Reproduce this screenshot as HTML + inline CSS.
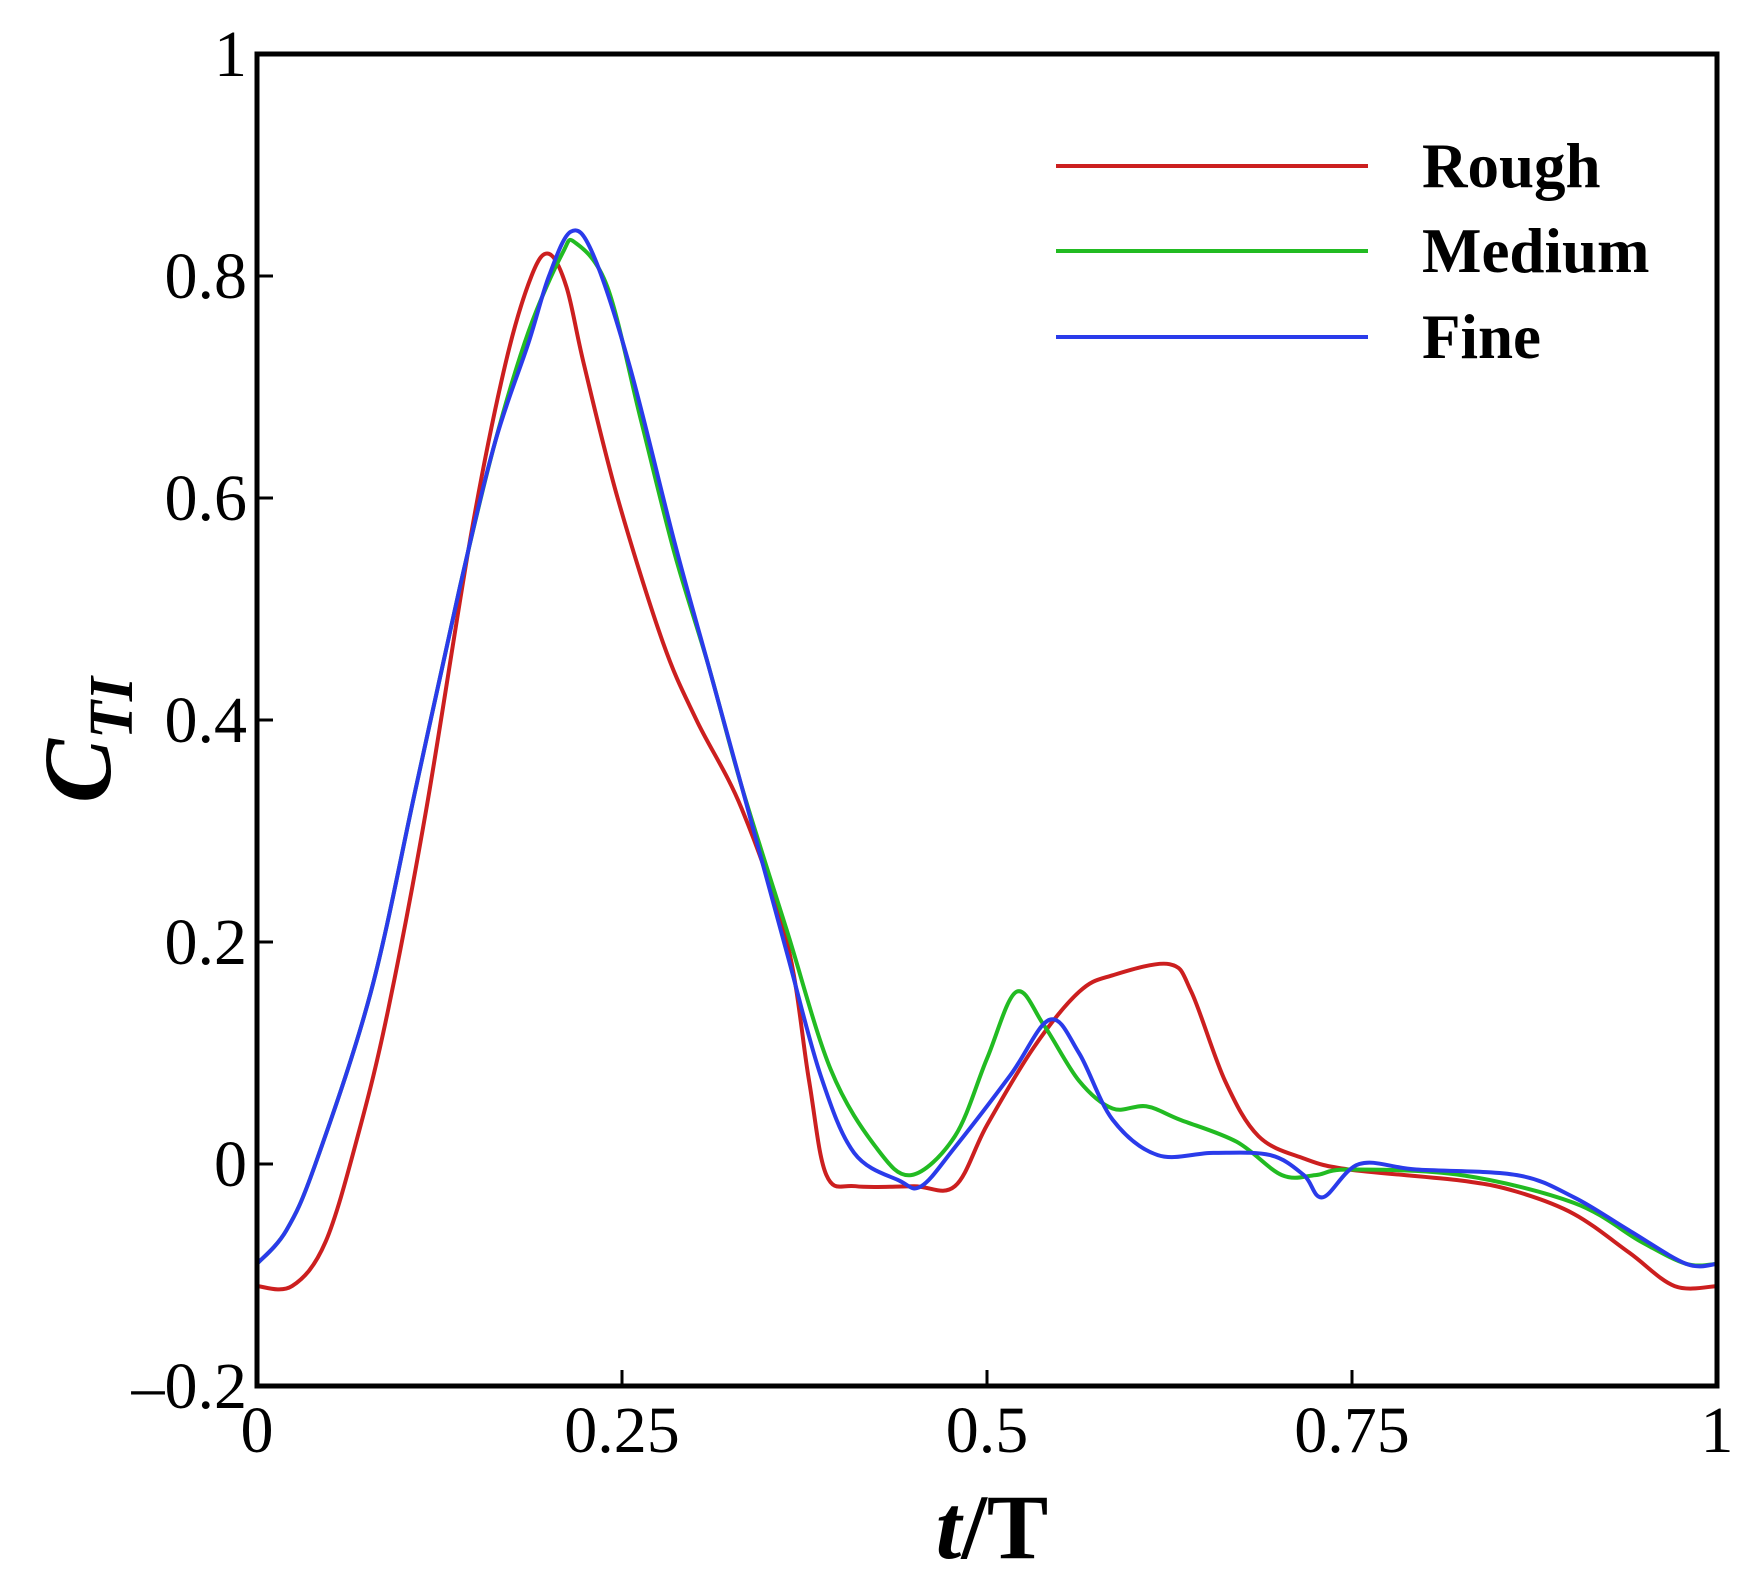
<!DOCTYPE html>
<html><head><meta charset="utf-8"><style>
html,body{margin:0;padding:0;background:#fff}
svg{display:block}
text{font-family:"Liberation Serif",serif}
</style></head><body>
<svg id="chart" width="1761" height="1578" viewBox="0 0 1761 1578" xmlns="http://www.w3.org/2000/svg">
<g id="plot"></g>
</svg>
<script>
const xTicks=[0,0.25,0.5,0.75,1];
const xTickLabels=["0","0.25","0.5","0.75","1"];
const yTicks=[-0.2,0,0.2,0.4,0.6,0.8,1];
const yTickLabels=["\u20130.2","0","0.2","0.4","0.6","0.8","1"];
const seriesNames=["Rough","Medium","Fine"];
const seriesColors=["#cc1f1f","#22bb22","#2a3bea"];
const roughT=[0,0.024,0.047,0.07,0.09,0.116,0.147,0.17,0.188,0.2,0.212,0.224,0.247,0.278,0.301,0.332,0.363,0.378,0.39,0.41,0.45,0.478,0.5,0.532,0.563,0.586,0.625,0.64,0.663,0.686,0.717,0.748,0.825,0.863,0.902,0.94,0.971,1];
const roughV=[-0.11,-0.11,-0.07,0.03,0.14,0.32,0.57,0.72,0.8,0.82,0.79,0.72,0.6,0.47,0.4,0.32,0.2,0.076,-0.01,-0.02,-0.02,-0.02,0.035,0.105,0.155,0.17,0.18,0.155,0.075,0.025,0.005,-0.005,-0.015,-0.025,-0.045,-0.08,-0.11,-0.11];
const mediumT=[0,0.02,0.04,0.078,0.109,0.139,0.163,0.186,0.209,0.218,0.24,0.263,0.286,0.309,0.332,0.363,0.393,0.424,0.448,0.478,0.5,0.52,0.539,0.563,0.586,0.609,0.632,0.671,0.702,0.725,0.748,0.825,0.902,0.948,0.979,1];
const mediumV=[-0.09,-0.06,0.0,0.155,0.34,0.52,0.65,0.75,0.82,0.83,0.79,0.67,0.55,0.45,0.34,0.21,0.085,0.015,-0.01,0.025,0.095,0.155,0.125,0.075,0.05,0.052,0.04,0.02,-0.01,-0.01,-0.005,-0.01,-0.035,-0.07,-0.09,-0.09];
const fineT=[0,0.02,0.04,0.078,0.109,0.139,0.163,0.186,0.2,0.215,0.23,0.255,0.286,0.309,0.332,0.363,0.386,0.409,0.44,0.455,0.478,0.516,0.543,0.563,0.586,0.617,0.655,0.694,0.717,0.73,0.755,0.794,0.863,0.902,0.94,0.979,1];
const fineV=[-0.09,-0.06,0.0,0.155,0.34,0.52,0.65,0.74,0.8,0.84,0.82,0.72,0.56,0.45,0.34,0.19,0.08,0.01,-0.015,-0.02,0.015,0.08,0.13,0.1,0.04,0.008,0.01,0.008,-0.01,-0.03,0.0,-0.005,-0.01,-0.03,-0.06,-0.09,-0.09];

const L=257,R=1717,T=54,B=1386;
const sx=v=>L+(v-0)/(1-0)*(R-L);
const sy=v=>B-(v+0.2)/1.2*(B-T);
const NS="http://www.w3.org/2000/svg";
const g=document.getElementById('plot');
function mk(tag,attrs,parent){const e=document.createElementNS(NS,tag);for(const k in attrs)e.setAttribute(k,attrs[k]);(parent||g).appendChild(e);return e;}

function smooth(ts,vs){
  const p=ts.map((t,i)=>[sx(t),sy(vs[i])]);
  let d=`M${p[0][0]},${p[0][1]}`;
  for(let i=0;i<p.length-1;i++){
    const p0=p[i-1]||p[i],p1=p[i],p2=p[i+1],p3=p[i+2]||p2;
    const c1=[p1[0]+(p2[0]-p0[0])/6,p1[1]+(p2[1]-p0[1])/6];
    const c2=[p2[0]-(p3[0]-p1[0])/6,p2[1]-(p3[1]-p1[1])/6];
    d+=` C${c1[0]},${c1[1]} ${c2[0]},${c2[1]} ${p2[0]},${p2[1]}`;
  }
  return d;
}

xTicks.forEach((v,i)=>{
  const t=mk('line',{x1:sx(v),x2:sx(v),y1:B,y2:B-16,stroke:'#000','stroke-width':3});
  
  
  const lb=mk('text',{x:sx(v),y:1452,'font-size':66,'text-anchor':'middle'});
  lb.textContent=xTickLabels[i];
  
  
});
yTicks.forEach((v,i)=>{
  const t=mk('line',{x1:L,x2:L+16,y1:sy(v),y2:sy(v),stroke:'#000','stroke-width':3});
  
  
  const lb=mk('text',{x:247,y:sy(v)+22,'font-size':66,'text-anchor':'end'});
  lb.textContent=yTickLabels[i];
  
  
});

const series=[[roughT,roughV],[mediumT,mediumV],[fineT,fineV]];
series.forEach((s,i)=>{
  const p=mk('path',{d:smooth(s[0],s[1]),fill:'none',stroke:seriesColors[i],'stroke-width':4,'stroke-linejoin':'round'});
  
  
});

const box=mk('rect',{x:L,y:T,width:R-L,height:B-T,fill:'none',stroke:'#000','stroke-width':5});



const legY=[166,251,337];
seriesNames.forEach((n,i)=>{
  const l=mk('line',{x1:1056,x2:1368,y1:legY[i],y2:legY[i],stroke:seriesColors[i],'stroke-width':4});
  
  
  const t=mk('text',{x:1422,y:legY[i]+21,'font-size':63,'font-weight':'bold'});
  t.textContent=n;
  
  
});
</script>
<svg style="position:absolute;left:0;top:0" width="1761" height="1578">
<text x="992" y="1558" font-size="92" font-weight="bold" text-anchor="middle" font-family="Liberation Serif, serif"><tspan font-style="italic">t</tspan>/T</text>
<text transform="translate(110,740) rotate(-90)" font-size="96" font-weight="bold" font-style="italic" text-anchor="middle" font-family="Liberation Serif, serif">C<tspan font-size="62" dy="22">TI</tspan></text>
</svg>
</body></html>
